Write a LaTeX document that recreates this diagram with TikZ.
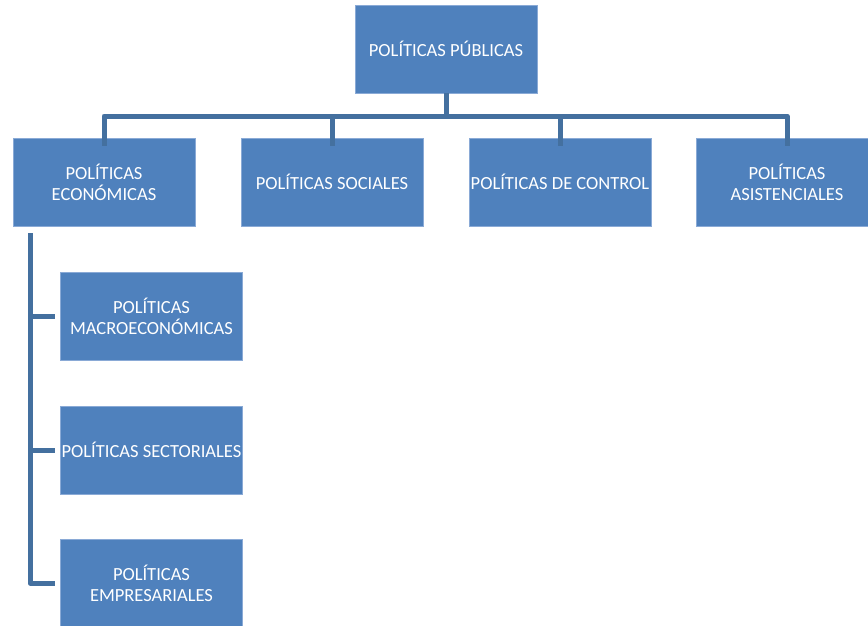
\documentclass[tikz,border=0pt]{standalone}
\usepackage{fontspec}
\setmainfont{Carlito}
\definecolor{boxfill}{HTML}{4F81BD}
\definecolor{boxedge}{HTML}{8AAAD6}
\definecolor{linecol}{HTML}{44709F}
\begin{document}
\begin{tikzpicture}[x=1pt,y=-1pt,
  pbox/.style={rectangle, fill=boxfill, draw=boxedge, line width=0.8pt,
    minimum width=182pt, minimum height=88pt, inner sep=0pt,
    text=white, align=center, font=\fontsize{18.5}{21}\selectfont},
  conn/.style={draw=linecol, line width=5pt, line join=round, line cap=butt}]
\useasboundingbox (0,0) rectangle (868,626);
\clip (0,0) rectangle (868,626);
\node[pbox] (top) at (446,49) {POLÍTICAS PÚBLICAS};
\node[pbox] (c1) at (104,182) {POLÍTICAS\\ECONÓMICAS};
\node[pbox] (c2) at (332,182) {POLÍTICAS SOCIALES};
\node[pbox] (c3) at (560,182) {POLÍTICAS DE CONTROL};
\node[pbox] (c4) at (787,182) {POLÍTICAS\\ASISTENCIALES};
\node[pbox] (m1) at (151.5,316) {POLÍTICAS\\MACROECONÓMICAS};
\node[pbox] (m2) at (151.5,450) {POLÍTICAS SECTORIALES};
\node[pbox] (m3) at (151.5,583) {POLÍTICAS\\EMPRESARIALES};
\coordinate (bar) at (446,116);
\coordinate (trunk) at (30,233);
\draw[conn] (top.south) -- (bar);
\draw[conn] ([yshift=-8pt]c1.north) |- (bar) -| ([yshift=-8pt]c4.north);
\draw[conn] (bar -| c2.north) -- ([yshift=-8pt]c2.north);
\draw[conn] (bar -| c3.north) -- ([yshift=-8pt]c3.north);
\draw[conn] (trunk) |- ([xshift=-5pt]m3.west);
\draw[conn] (trunk |- m1.west) -- ([xshift=-5pt]m1.west);
\draw[conn] (trunk |- m2.west) -- ([xshift=-5pt]m2.west);
\end{tikzpicture}
\end{document}
